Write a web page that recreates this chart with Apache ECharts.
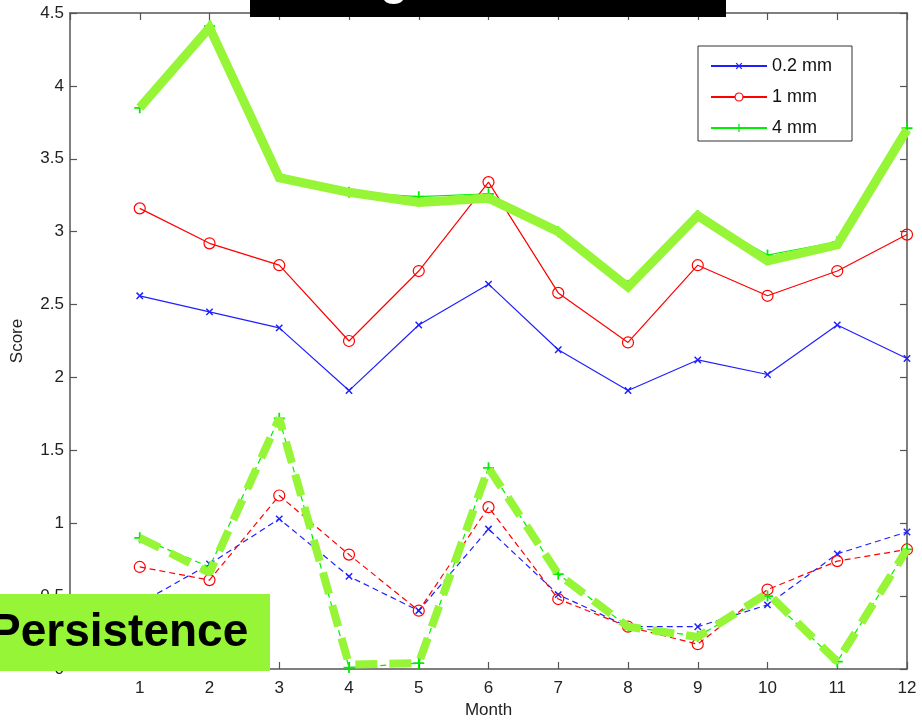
<!DOCTYPE html>
<html>
<head>
<meta charset="utf-8">
<script src="https://cdn.jsdelivr.net/npm/echarts@6/dist/echarts.min.js"></script>
<style>html,body{margin:0;padding:0;background:#fff;}#c{width:922px;height:724px;}</style>
</head>
<body>
<div id="c"></div>
<script>
// Months
const months = [1,2,3,4,5,6,7,8,9,10,11,12];
// Solid lines (upper group)
const solid02 = [2.56,2.45,2.34,1.91,2.36,2.64,2.19,1.91,2.12,2.02,2.36,2.13];
const solid1  = [3.16,2.92,2.77,2.25,2.73,3.34,2.58,2.24,2.77,2.56,2.73,2.98];
const solid4  = [3.85,4.41,3.39,3.27,3.24,3.26,3.00,2.63,3.11,2.84,2.93,3.71];
// Dashed lines (persistence group)
const dash02 = [0.45,0.72,1.03,0.635,0.40,0.96,0.51,0.29,0.29,0.44,0.79,0.94];
const dash1  = [0.70,0.61,1.19,0.785,0.40,1.11,0.48,0.29,0.17,0.545,0.74,0.82];
const dash4  = [0.90,0.70,1.72,0.01,0.04,1.38,0.65,0.29,0.225,0.50,0.05,0.82];
// Hand-drawn highlight overlays
const highlightSolid = [3.85,4.40,3.37,3.27,3.20,3.23,3.00,2.62,3.11,2.80,2.91,3.70];
const highlightDash  = [0.90,0.66,1.72,0.03,0.04,1.38,0.65,0.29,0.22,0.52,0.05,0.82];
// Tick labels / texts
const legendNames = ['0.2 mm','1 mm','4 mm'];
const xName = 'Month';
const yName = 'Score';
const boxLabel = 'Persistence';
const titleFragment = 'g';

const pair = arr => arr.map((v,i)=>[months[i], v]);
const PLUS = 'path://M4.2,0H5.8V10H4.2ZM0,4.2H10V5.8H0Z';
const FONT = 'Liberation Sans';
const hl = '#95f536';

const chart = echarts.init(document.getElementById('c'), null, {renderer:'canvas'});
const tickStyle = {show:true, inside:true, length:7, lineStyle:{color:'#555', width:1.2}};
const axisLine = {show:true, onZero:false, lineStyle:{color:'#555', width:1.5}};

function mk(name, data, color, symbol, size, rotate, dashed, empty) {
  return {
    name, type:'line', data:pair(data), symbol, symbolSize:size, symbolRotate:rotate||0,
    showSymbol:true,
    lineStyle:{color, width:1.2, type: dashed ? [6,4] : 'solid'},
    itemStyle: empty ? {color:'rgba(0,0,0,0)', borderColor:color, borderWidth:1.2} : {color, borderWidth:0},
    color, z:2, silent:true
  };
}

const option = {
  animation:false,
  backgroundColor:'#fff',
  grid:{left:70, right:15, top:13, bottom:52},
  legend:{
    data:[
      {name:legendNames[0]},
      {name:legendNames[1], itemStyle:{color:'#fff', borderColor:'#ff0000', borderWidth:1.2}},
      {name:legendNames[2]}
    ],
    orient:'vertical', left:698, top:46,
    itemWidth:56, itemHeight:10, itemGap:13,
    padding:[11,20,4,12],
    borderColor:'#333', borderWidth:1, backgroundColor:'#fff',
    textStyle:{fontFamily:FONT, fontSize:18, color:'#111'},
    selectedMode:false
  },
  xAxis:[{
    type:'value', min:0, max:12, interval:1,
    axisLine, axisTick:tickStyle, splitLine:{show:false},
    axisLabel:{fontFamily:FONT, fontSize:17, color:'#222', margin:11, formatter:v=> v===0 ? '' : String(v)},
    name:xName, nameLocation:'middle', nameGap:33,
    nameTextStyle:{fontFamily:FONT, fontSize:17, color:'#222'}
  },{
    type:'value', min:0, max:12, interval:1, position:'top',
    axisLine, axisTick:tickStyle, splitLine:{show:false}, axisLabel:{show:false}
  }],
  yAxis:[{
    type:'value', min:0, max:4.5, interval:0.5,
    axisLine, axisTick:tickStyle, splitLine:{show:false},
    axisLabel:{fontFamily:FONT, fontSize:17, color:'#222', margin:6},
    name:yName, nameLocation:'middle', nameGap:44,
    nameTextStyle:{fontFamily:FONT, fontSize:17, color:'#222'}
  },{
    type:'value', min:0, max:4.5, interval:0.5, position:'right',
    axisLine, axisTick:tickStyle, splitLine:{show:false}, axisLabel:{show:false}
  }],
  series:[
    mk(legendNames[0], solid02, '#2020ff', PLUS, 9, 45, false, false),
    mk(legendNames[1], solid1, '#ff0000', 'circle', 11, 0, false, true),
    mk(legendNames[2], solid4, '#00ee00', PLUS, 11, 0, false, false),
    mk('p02', dash02, '#2020ff', PLUS, 9, 45, true, false),
    mk('p1', dash1, '#ff0000', 'circle', 11, 0, true, true),
    mk('p4', dash4, '#00ee00', PLUS, 11, 0, true, false),
    {name:'hlSolid', type:'line', data:pair(highlightSolid), symbol:'none',
     lineStyle:{color:hl, width:9, join:'miter'}, z:3, silent:true},
    {name:'hlDash', type:'line', data:pair(highlightDash), symbol:'none',
     lineStyle:{color:hl, width:8, type:[22,12], cap:'butt'}, z:3, silent:true}
  ],
  graphic:[
    {type:'rect', shape:{x:250, y:0, width:476, height:17}, style:{fill:'#000'}, z:100},
    {type:'text', x:380, y:4, style:{text:titleFragment, fill:'#fff', font:'bold 46px "Liberation Sans"', verticalAlign:'bottom'}, z:101},
    {type:'rect', shape:{x:0, y:594, width:270, height:77}, style:{fill:hl}, z:100},
    {type:'text', x:-10, y:633, style:{text:boxLabel, fill:'#000', font:'bold 46px "Liberation Sans"', verticalAlign:'middle'}, z:101}
  ]
};
chart.setOption(option);
</script>
</body>
</html>
